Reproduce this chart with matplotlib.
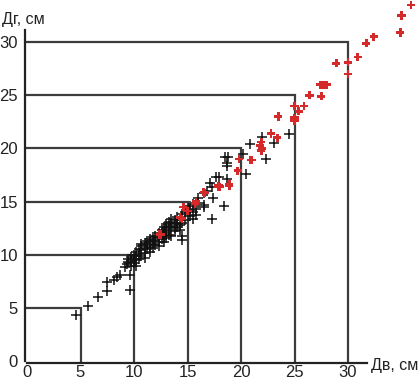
import numpy as np
import matplotlib
matplotlib.use('Agg')
import matplotlib.pyplot as plt

plt.rcParams['font.family'] = ['Liberation Sans', 'DejaVu Sans']

# box levels drawn from the axes
levels = [5, 10, 15, 20, 25, 30]
tick_vals = [0, 5, 10, 15, 20, 25, 30]

# black crosses (Дв, Дг)
black_x = [4.55, 5.7, 6.6, 7.5, 7.45, 8.1, 8.4, 8.7, 9.6, 9.6, 9.2, 9.3,
           9.4, 9.4, 9.7, 9.7, 9.7, 10.0, 10.0, 10.0, 10.2, 10.2, 10.2, 10.2,
           10.5, 10.5, 10.5, 10.7, 10.7, 10.7, 10.7, 11.0, 11.0, 11.0, 11.0,
           11.2, 11.2, 11.2, 11.5, 11.5, 11.5, 11.5, 11.8, 11.8, 11.8, 11.8,
           12.0, 12.0, 12.0, 12.3, 12.3, 12.3, 12.3, 12.6, 12.6, 12.6,
           12.8, 12.8, 12.8, 12.8, 13.0, 13.0, 13.0, 13.0, 13.3, 13.3, 13.3, 13.3,
           13.5, 13.5, 13.5, 13.5, 13.8, 13.8, 13.8, 13.8, 14.0, 14.0, 14.0,
           14.3, 14.3, 14.3, 14.5, 14.5, 14.5, 14.5, 14.8, 14.8,
           15.2, 15.2, 15.2, 15.5, 15.5, 15.5, 15.8, 15.8, 16.0, 16.0,
           16.5, 16.5, 16.5, 16.8, 17.1, 17.3, 17.3, 17.4, 17.7, 17.9, 18.4,
           18.5, 18.7, 18.7, 18.7, 18.8, 20.2, 20.5, 20.8, 22.0, 22.3, 23.1, 24.5]
black_y = [4.3, 5.2, 6.0, 6.6, 7.4, 7.6, 7.9, 8.1, 6.7, 8.1, 8.8, 9.1,
           9.3, 9.6, 8.9, 9.4, 9.8, 9.2, 9.6, 10.0, 8.9, 9.5, 9.9, 10.3,
           9.6, 10.1, 10.5, 9.9, 10.4, 10.8, 11.0, 9.7, 10.2, 10.6, 11.1,
           10.5, 10.9, 11.3, 10.3, 10.7, 11.2, 11.5, 10.6, 11.0, 11.4, 11.7,
           10.9, 11.3, 11.8, 10.8, 11.2, 11.6, 12.0, 11.5, 11.9, 12.3,
           11.2, 11.8, 12.2, 12.6, 11.6, 12.0, 12.5, 12.9, 11.9, 12.3, 12.7, 13.1,
           11.8, 12.6, 13.0, 13.4, 12.2, 12.5, 12.9, 13.3, 12.6, 13.0, 13.5,
           12.3, 12.8, 13.3, 11.4, 11.8, 13.0, 13.8, 13.3, 14.0,
           13.6, 14.2, 14.6, 13.4, 14.0, 14.8, 13.7, 14.3, 14.9, 15.3,
           14.5, 14.7, 15.8, 16.0, 16.7, 16.4, 13.4, 15.3, 17.3, 17.3, 14.6,
           19.2, 18.6, 17.1, 18.3, 19.2, 19.5, 17.6, 20.4, 21.1, 19.0, 20.5, 21.4]

# red crosses (Дв, Дг)
red_x = [12.4, 12.5, 14.3, 14.5, 14.6, 15.0, 15.7, 15.8, 16.5, 16.6, 17.9, 18.0,
         17.9, 18.9, 18.9, 19.7, 19.8, 20.9, 21.0, 21.9, 22.0, 21.8, 21.9,
         22.8, 23.4, 23.5, 25.0, 25.0, 25.4, 25.0, 25.9, 26.4, 27.5,
         27.4, 27.7, 28.0, 28.9, 30.0, 30.0, 30.9, 31.7, 32.4, 34.9, 35.0, 35.9]
red_y = [11.9, 11.9, 13.5, 13.4, 14.5, 14.1, 14.8, 15.0, 15.9, 15.8, 16.4, 16.4,
         16.5, 16.5, 16.6, 17.9, 19.0, 18.9, 18.9, 20.6, 20.0, 20.3, 19.8,
         21.4, 21.0, 23.0, 22.9, 22.6, 23.5, 24.0, 24.0, 25.0, 24.9,
         26.0, 26.0, 26.0, 28.0, 28.1, 27.0, 28.6, 29.9, 30.5, 30.9, 32.5, 33.5]

W, H = 419, 382
fig = plt.figure(figsize=(W / 100, H / 100), dpi=100)

# pixel mapping
px_x0, px_per_x = 27, 10.7
px_y0, px_per_y = 361, 10.63
xlim = (-0.2, 36.5)
ylim = (-0.2, 34.0)
left = px_x0 + xlim[0] * px_per_x
right = px_x0 + xlim[1] * px_per_x
bottom = px_y0 - ylim[0] * px_per_y
top = px_y0 - ylim[1] * px_per_y
ax = fig.add_axes([left / W, 1 - bottom / H, (right - left) / W, (bottom - top) / H])
ax.set_xlim(*xlim)
ax.set_ylim(*ylim)

for k in levels:
    ax.plot([0, k, k], [k, k, 0], color='#3c3c3c', lw=1.6, zorder=1,
            solid_joinstyle='miter')

ax.scatter(black_x, black_y, marker='+', s=42, color='#111111', linewidths=1.1, zorder=3)
ax.scatter(red_x, red_y, marker='P', s=34, color='#d42a2a', edgecolors='none', zorder=4)

for side in ['top', 'right']:
    ax.spines[side].set_visible(False)
ax.spines['left'].set_bounds(0, 31.1)
ax.spines['bottom'].set_bounds(0, 31.8)
for side in ['left', 'bottom']:
    ax.spines[side].set_linewidth(1.6)
    ax.spines[side].set_color('#222222')

ax.set_xticks(tick_vals)
ax.set_yticks(tick_vals)
ax.tick_params(length=0, labelsize=12, colors='#222222')
ax.tick_params(axis='x', pad=1.5)
ax.tick_params(axis='y', pad=5)
ax.patch.set_visible(False)

fig.text(2 / W, 1 - 24 / H, 'Дг, см', fontsize=11.5, color='#222222', va='baseline', ha='left')
fig.text(371 / W, 1 - 370 / H, 'Дв, см', fontsize=11.5, color='#222222', va='baseline', ha='left')

fig.savefig('out.png', dpi=100)
